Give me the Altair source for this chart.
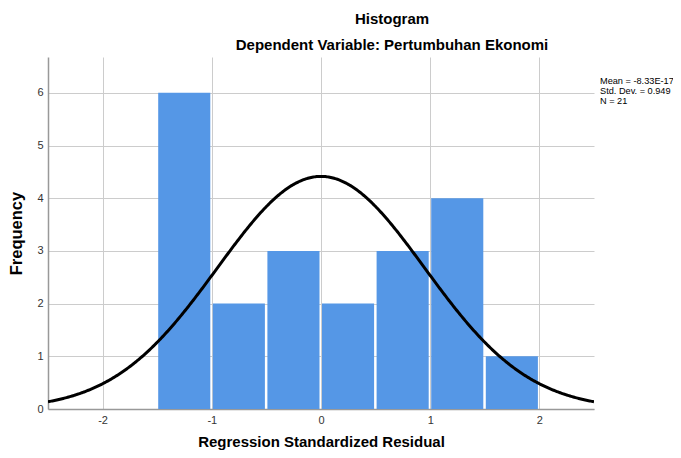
import altair as alt
import pandas as pd

# Histogram data (bin edges and counts)
bin_start = [-1.5, -1.0, -0.5, 0.0, 0.5, 1.0, 1.5]
bin_end = [-1.0, -0.5, 0.0, 0.5, 1.0, 1.5, 2.0]
counts = [6, 2, 3, 2, 3, 4, 1]

# Summary statistics shown on the chart
MEAN = -8.33e-17
SD = 0.949
N = 21
BIN_WIDTH = 0.5
stats_lines = ["Mean = -8.33E-17", "Std. Dev. = 0.949", "N = 21"]

x_ticks = [-2, -1, 0, 1, 2]
y_ticks = [0, 1, 2, 3, 4, 5, 6]

FONT = "Liberation Sans"
BAR_COLOR = "#5597e6"

bars_df = pd.DataFrame({"start": bin_start, "end": bin_end, "count": counts})

x_scale = alt.Scale(domain=[-2.5, 2.5], nice=False, zero=False)
y_scale = alt.Scale(domain=[0, 6.68], nice=False)

x_axis = alt.Axis(values=x_ticks, labelExpr="'' + datum.value",
                  title="Regression Standardized Residual",
                  titleFont=FONT, titleFontSize=15, titleFontWeight="bold",
                  titleColor="#000000", titlePadding=9,
                  labelFont=FONT, labelFontSize=11, labelColor="#333333",
                  labelPadding=5, ticks=False, domainColor="#999999",
                  domainWidth=1.5, gridColor="#cccccc", gridWidth=1)
y_axis = alt.Axis(values=y_ticks, labelExpr="'' + datum.value", title="Frequency",
                  titleFont=FONT, titleFontSize=16.5, titleFontWeight="bold",
                  titleColor="#000000", titlePadding=12,
                  labelFont=FONT, labelFontSize=11, labelColor="#333333",
                  labelPadding=5, ticks=False, domainColor="#999999",
                  domainWidth=1.5, gridColor="#cccccc", gridWidth=1)

bars = alt.Chart(bars_df).mark_bar(
    color=BAR_COLOR, xOffset=1, x2Offset=-1.5
).encode(
    x=alt.X("start:Q", scale=x_scale, axis=x_axis),
    x2="end:Q",
    y=alt.Y("count:Q", scale=y_scale, axis=y_axis),
    y2=alt.datum(0),
)

curve = alt.Chart(alt.sequence(-2.5, 2.5001, 0.01, as_="x")).transform_calculate(
    density=f"{N}*{BIN_WIDTH}/({SD}*sqrt(2*PI))*exp(-0.5*pow((datum.x-({MEAN}))/{SD},2))"
).mark_line(color="#000000", strokeWidth=3, clip=True).encode(
    x=alt.X("x:Q", scale=x_scale),
    y=alt.Y("density:Q", scale=y_scale),
)

stats = alt.Chart(pd.DataFrame({"t": ["\n".join(stats_lines)]})).mark_text(
    align="left", baseline="top", font=FONT, fontSize=9.2, lineHeight=10,
    lineBreak="\n", color="#000000"
).encode(
    text="t:N",
    x=alt.value(552),
    y=alt.value(20),
)

chart = alt.layer(bars, curve, stats).properties(
    width=546,
    height=352,
    title=alt.TitleParams(
        text="Histogram",
        subtitle="Dependent Variable: Pertumbuhan Ekonomi",
        anchor="middle", dx=71, font=FONT, fontSize=15, fontWeight="bold",
        color="#000000", subtitleFont=FONT, subtitleFontSize=15,
        subtitleFontWeight="bold", subtitleColor="#000000",
        subtitlePadding=11, offset=4,
    ),
    autosize=alt.AutoSizeParams(type="none"),
    padding={"left": 40, "top": 49, "right": 79, "bottom": 41},
).configure_view(stroke=None).configure_axis(grid=True)

chart.save("out.html", embed_options={"renderer": "svg", "actions": False})
